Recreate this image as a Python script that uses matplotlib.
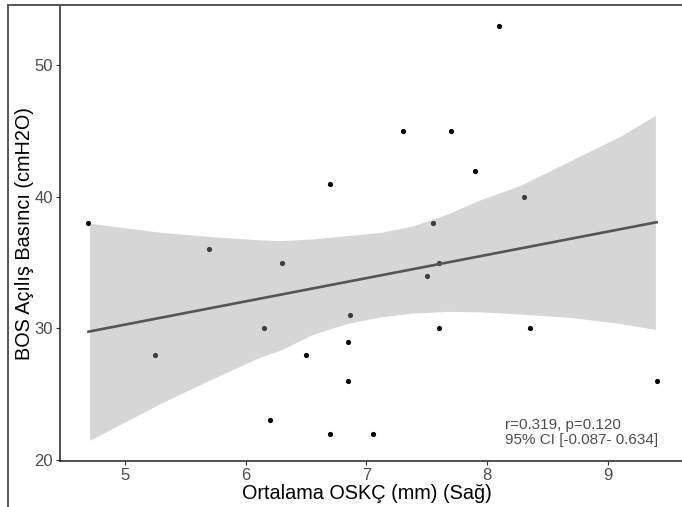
import numpy as np
import matplotlib
matplotlib.use("Agg")
import matplotlib.pyplot as plt
from matplotlib.lines import Line2D
from matplotlib import rcParams

rcParams["font.family"] = ["Liberation Sans", "DejaVu Sans"]

# Scatter points
osk_sag = [4.70, 5.25, 5.70, 6.15, 6.20, 6.30, 6.50, 6.70, 6.70, 6.85, 6.85, 6.86,
           7.05, 7.30, 7.50, 7.55, 7.60, 7.60, 7.70, 7.90, 8.10, 8.30, 8.35, 9.40]
bos_basinc = [38, 28, 36, 30, 23, 35, 28, 41, 22, 29, 26, 31,
              22, 45, 34, 38, 35, 30, 45, 42, 53, 40, 30, 26]

# Fitted line and 95% band, as drawn in the figure
fit_x = [4.70, 9.40]
fit_y = [29.75, 38.07]
band_x = [4.71, 5.30, 5.71, 6.12, 6.29, 6.56, 6.84, 7.12, 7.39, 7.67, 7.94,
          8.27, 8.69, 9.10, 9.39]
band_hi = [37.99, 37.30, 36.98, 36.73, 36.67, 36.80, 37.05, 37.30, 37.80, 38.70,
           39.77, 40.86, 42.76, 44.60, 46.19]
band_lo = [21.49, 24.32, 26.10, 27.81, 28.35, 29.56, 30.37, 30.88, 31.17, 31.29,
           31.26, 31.09, 30.83, 30.37, 29.92]

x_ticks = [5, 6, 7, 8, 9]
y_ticks = [20, 30, 40, 50]
stat_text = "r=0.319, p=0.120\n95% CI [-0.087- 0.634]"

W, H = 682, 507
fig = plt.figure(figsize=(W / 100, H / 100), dpi=100)
ax = fig.add_axes([60 / W, 46 / H, 625 / W, 456 / H])

ax.scatter(osk_sag, bos_basinc, s=14, color="black", linewidths=0, zorder=2)
ax.fill_between(band_x, band_lo, band_hi, color="#999999", alpha=0.4,
                linewidth=0, zorder=3)
ax.plot(fit_x, fit_y, color="#555555", lw=1.9, zorder=4)

ax.set_xlim(4.465, 9.635)
ax.set_ylim(19.92, 54.58)
ax.set_xticks(x_ticks)
ax.set_yticks(y_ticks)

ax.tick_params(axis="both", length=3, width=0.8, color="#333333",
               labelcolor="#4D4D4D", labelsize=12, pad=2)

ax.spines["top"].set_visible(False)
ax.spines["right"].set_visible(False)
for side in ["left", "bottom"]:
    ax.spines[side].set_color("#222222")
    ax.spines[side].set_linewidth(1.1)

ax.set_xlabel("Ortalama OSKÇ (mm) (Sağ)", fontsize=14.3, color="black")
ax.set_ylabel("BOS Açılış Basıncı (cmH2O)", fontsize=14.3, color="black")
ax.xaxis.set_label_coords((367 - 60) / 625, -0.05)
ax.yaxis.set_label_coords((34 - 60) / 625, 0.5)

ax.text(8.146, 23.2, stat_text, fontsize=11, color="#4D4D4D", ha="left",
        va="top", linespacing=1.15, zorder=5)

# outer frame (top and left edges)
fig.add_artist(Line2D([8 / W, 1], [1 - 4.5 / H, 1 - 4.5 / H], color="#555555",
                      lw=1.4, transform=fig.transFigure))
fig.add_artist(Line2D([8 / W, 8 / W], [0, 1 - 4.5 / H], color="#555555",
                      lw=1.4, transform=fig.transFigure))

plt.savefig("out.png", dpi=100)
plt.close()
